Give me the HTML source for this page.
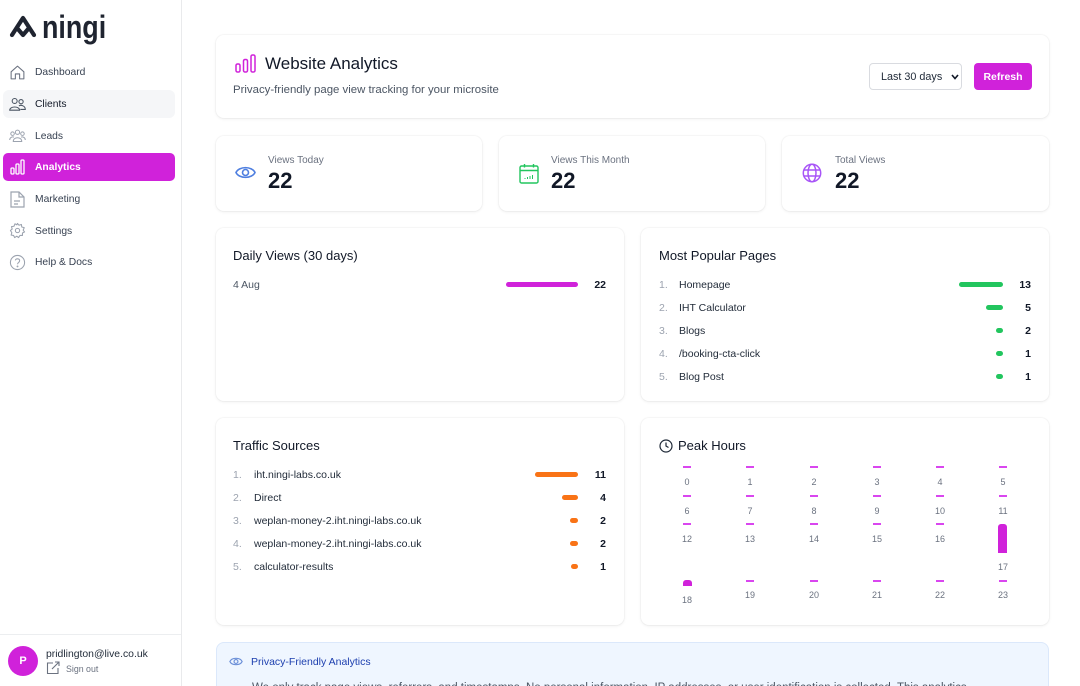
<!DOCTYPE html>
<html><head><meta charset="utf-8">
<style>
*{margin:0;padding:0;box-sizing:border-box}
html{width:1080px;height:686px;overflow:hidden}
body{position:relative;width:1080px;height:686px;overflow:hidden;background:#fff;font-family:"Liberation Sans",sans-serif;color:#111827}
.abs{position:absolute}
.t{position:absolute;white-space:nowrap;margin-top:1px}
.side{position:absolute;left:0;top:0;width:182px;height:686px;border-right:1px solid #e9eaec;background:#fff}
.nav{position:absolute;left:35px;font-size:10.3px;line-height:14px;color:#374151;margin-top:1px}
.card{position:absolute;background:#fff;border-radius:8px;box-shadow:0 1px 3px rgba(0,0,0,0.07),0 0 0 1px rgba(0,0,0,0.025)}
.h{font-size:13px;color:#111827;line-height:16px}
.idx{font-size:10.5px;color:#9ca3af;line-height:14px}
.lbl{font-size:10.5px;color:#1f2937;line-height:14px}
.num{font-size:10.5px;color:#111827;line-height:14px;font-weight:bold;text-align:right;width:30px}
.bar{position:absolute;height:5px;border-radius:3px}
.d{position:absolute;width:8px;height:2px;background:#d946ef}
.pl{position:absolute;width:30px;text-align:center;font-size:9px;line-height:12px;color:#6b7280;margin-top:1px}
</style></head><body>

<!-- Sidebar -->
<div class="side">
  <svg class="abs" style="left:8px;top:15px" width="31" height="24" viewBox="0 0 31 24">
    <path d="M15 3 L4 20 M15 3 L26 20 M9 13 L15 20 L21 13" stroke="#1f2430" stroke-width="4.2" fill="none" stroke-linecap="round" stroke-linejoin="round"/>
  </svg>
  <div class="abs" style="left:42px;top:10px;font-size:32px;font-weight:bold;color:#1f2430;line-height:34px;white-space:nowrap;transform:scaleX(0.84);transform-origin:0 0">ningi</div>

  <!-- Dashboard -->
  <svg class="abs" style="left:9px;top:64px" width="17" height="17" viewBox="0 0 24 24" fill="none" stroke="#6b7280" stroke-width="1.5"><path d="M3 11 L12 3 L21 11 V21 H15 V14 H9 V21 H3 Z" stroke-linejoin="round"/></svg>
  <div class="nav" style="top:65px">Dashboard</div>

  <div class="abs" style="left:3px;top:90px;width:172px;height:28px;background:#f5f6f8;border-radius:6px"></div>
  <svg class="abs" style="left:9px;top:96px" width="17" height="17" viewBox="0 0 24 24" fill="none" stroke="#4b5563" stroke-width="1.5"><circle cx="8" cy="7" r="3.5"/><circle cx="17" cy="8" r="3"/><path d="M1 20 C1 14 15 14 15 20 Z"/><path d="M14 14 C17 12 23 14 23 19 H16"/></svg>
  <div class="nav" style="top:97px;color:#111827">Clients</div>

  <svg class="abs" style="left:9px;top:128px" width="17" height="17" viewBox="0 0 24 24" fill="none" stroke="#9ca3af" stroke-width="1.4"><circle cx="12" cy="6" r="3"/><circle cx="5" cy="8" r="2.5"/><circle cx="19" cy="8" r="2.5"/><path d="M6 19 C6 12 18 12 18 19 Z"/><path d="M1 17 C1 13 5 12 7 13 M23 17 C23 13 19 12 17 13"/></svg>
  <div class="nav" style="top:129px">Leads</div>

  <div class="abs" style="left:3px;top:153px;width:172px;height:28px;background:#d022da;border-radius:5px"></div>
  <svg class="abs" style="left:10px;top:159px" width="15" height="16" viewBox="0 0 15 16" fill="none" stroke="#fff" stroke-width="1.3"><rect x="1" y="9" width="3" height="6" rx="1"/><rect x="6" y="5" width="3" height="10" rx="1"/><rect x="11" y="1" width="3" height="14" rx="1"/></svg>
  <div class="nav" style="top:160px;color:#fff;font-weight:bold">Analytics</div>

  <svg class="abs" style="left:10px;top:191px" width="15" height="17" viewBox="0 0 15 17" fill="none" stroke="#9ca3af" stroke-width="1.2"><path d="M1 1 H9 L14 6 V16 H1 Z"/><path d="M9 1 V6 H14 M4 10 H10 M4 13 H8"/></svg>
  <div class="nav" style="top:192px">Marketing</div>

  <svg class="abs" style="left:9px;top:222px" width="17" height="17" viewBox="0 0 24 24" fill="none" stroke="#9ca3af" stroke-width="1.5"><circle cx="12" cy="12" r="3"/><path d="M12 2 L14 4.5 L17.5 3.5 L18 7 L21.5 8 L20 11.5 L22 14 L19 15.5 L19 19 L15.5 19 L13.5 22 L11 20 L8 22 L6.5 19 L3 18.5 L4 15 L2 12 L4.5 10 L3.5 6.5 L7 6 L8.5 2.5 L11 4 Z" stroke-linejoin="round"/></svg>
  <div class="nav" style="top:224px">Settings</div>

  <svg class="abs" style="left:9px;top:254px" width="17" height="17" viewBox="0 0 24 24" fill="none" stroke="#9ca3af" stroke-width="1.5"><circle cx="12" cy="12" r="10"/><path d="M9 9 C9 6 15 6 15 9.5 C15 12 12 12 12 14.5"/><circle cx="12" cy="17.5" r="0.6" fill="#9ca3af"/></svg>
  <div class="nav" style="top:255px">Help &amp; Docs</div>

  <div class="abs" style="left:0;top:634px;width:181px;height:1px;background:#eceef0"></div>
  <div class="abs" style="left:8px;top:646px;width:30px;height:30px;border-radius:50%;background:#d022da;color:#fff;font-size:11px;font-weight:bold;text-align:center;line-height:30px">P</div>
  <div class="t" style="left:46px;top:647px;font-size:10.4px;color:#1f2937;line-height:14px">pridlington@live.co.uk</div>
  <svg class="abs" style="left:46px;top:661px" width="14" height="14" viewBox="0 0 14 14" fill="none" stroke="#6b7280" stroke-width="1.1"><path d="M7 2 H1.5 V12.5 H12 V7"/><path d="M6 8 L13 1 M9 1 H13 V5"/></svg>
  <div class="t" style="left:66px;top:662px;font-size:8.8px;color:#6b7280;line-height:12px">Sign out</div>
</div>

<!-- Header card -->
<div class="card" style="left:216px;top:35px;width:833px;height:83px"></div>
<svg class="abs" style="left:235px;top:54px" width="21" height="19" viewBox="0 0 21 19" fill="none" stroke="#d022da" stroke-width="1.5"><rect x="1" y="10" width="4" height="8" rx="1.5"/><rect x="8.5" y="5.5" width="4" height="12.5" rx="1.5"/><rect x="16" y="1" width="4" height="17" rx="1.5"/></svg>
<div class="t" style="left:265px;top:53px;font-size:17px;line-height:20px;color:#111827">Website Analytics</div>
<div class="t" style="left:233px;top:82px;font-size:11.4px;line-height:14px;color:#4b5563">Privacy-friendly page view tracking for your microsite</div>
<div class="abs" style="left:869px;top:63px;width:93px;height:27px;border:1px solid #d9dbe0;border-radius:4px;background:#fff"></div>
<div class="t" style="left:881px;top:70px;font-size:10.8px;line-height:13px;color:#1f2937">Last 30 days</div>
<svg class="abs" style="left:951px;top:74px" width="8" height="6" viewBox="0 0 8 6"><path d="M1 1 L4 4.5 L7 1" stroke="#111827" stroke-width="1.6" fill="none"/></svg>
<div class="abs" style="left:974px;top:63px;width:58px;height:27px;background:#d022da;border-radius:4px;color:#fff;font-size:10.5px;font-weight:bold;text-align:center;line-height:29px">Refresh</div>

<!-- Stat cards -->
<div class="card" style="left:216px;top:136px;width:266px;height:75px"></div>
<div class="card" style="left:499px;top:136px;width:266px;height:75px"></div>
<div class="card" style="left:782px;top:136px;width:267px;height:75px"></div>

<svg class="abs" style="left:235px;top:164px" width="21" height="17" viewBox="0 0 21 17" fill="none" stroke="#4f7fe0" stroke-width="1.6"><path d="M1 8.5 C4 2 17 2 20 8.5 C17 15 4 15 1 8.5 Z"/><circle cx="10.5" cy="8.5" r="3"/></svg>
<div class="t" style="left:268px;top:154px;font-size:10px;line-height:12px;color:#6b7280">Views Today</div>
<div class="t" style="left:268px;top:168px;font-size:22px;line-height:24px;font-weight:bold;color:#111827">22</div>

<svg class="abs" style="left:519px;top:163px" width="20" height="21" viewBox="0 0 20 21" fill="none" stroke="#22c55e" stroke-width="1.4"><rect x="1" y="3" width="18" height="17" rx="1.5"/><path d="M1 7.5 H19 M5.5 1 V4.5 M14.5 1 V4.5"/><path d="M6 16 V15 M8.5 16 V14 M11 16 V13 M13.5 16 V12" stroke-width="1"/></svg>
<div class="t" style="left:551px;top:154px;font-size:10px;line-height:12px;color:#6b7280">Views This Month</div>
<div class="t" style="left:551px;top:168px;font-size:22px;line-height:24px;font-weight:bold;color:#111827">22</div>

<svg class="abs" style="left:802px;top:163px" width="20" height="20" viewBox="0 0 20 20" fill="none" stroke="#a855f7" stroke-width="1.5"><circle cx="10" cy="10" r="8.7"/><ellipse cx="10" cy="10" rx="4" ry="8.7"/><path d="M1.5 7 H18.5 M1.5 13 H18.5"/></svg>
<div class="t" style="left:835px;top:154px;font-size:10px;line-height:12px;color:#6b7280">Total Views</div>
<div class="t" style="left:835px;top:168px;font-size:22px;line-height:24px;font-weight:bold;color:#111827">22</div>

<!-- Daily views -->
<div class="card" style="left:216px;top:228px;width:408px;height:173px"></div>
<div class="t h" style="left:233px;top:247px">Daily Views (30 days)</div>
<div class="t" style="left:233px;top:277px;font-size:10.5px;line-height:14px;color:#4b5563">4 Aug</div>
<div class="bar" style="left:506px;top:282px;width:72px;background:#d022da"></div>
<div class="t num" style="left:576px;top:277px">22</div>

<!-- Most popular pages -->
<div class="card" style="left:641px;top:228px;width:408px;height:173px"></div>
<div class="t h" style="left:659px;top:247px">Most Popular Pages</div>
<div class="t idx" style="left:659px;top:277px">1.</div><div class="t lbl" style="left:679px;top:277px">Homepage</div>
<div class="bar" style="left:959px;top:282px;width:44px;background:#22c55e"></div><div class="t num" style="left:1001px;top:277px">13</div>
<div class="t idx" style="left:659px;top:300px">2.</div><div class="t lbl" style="left:679px;top:300px">IHT Calculator</div>
<div class="bar" style="left:986px;top:305px;width:17px;background:#22c55e"></div><div class="t num" style="left:1001px;top:300px">5</div>
<div class="t idx" style="left:659px;top:323px">3.</div><div class="t lbl" style="left:679px;top:323px">Blogs</div>
<div class="bar" style="left:996px;top:328px;width:7px;background:#22c55e"></div><div class="t num" style="left:1001px;top:323px">2</div>
<div class="t idx" style="left:659px;top:346px">4.</div><div class="t lbl" style="left:679px;top:346px">/booking-cta-click</div>
<div class="bar" style="left:996px;top:351px;width:7px;background:#22c55e"></div><div class="t num" style="left:1001px;top:346px">1</div>
<div class="t idx" style="left:659px;top:369px">5.</div><div class="t lbl" style="left:679px;top:369px">Blog Post</div>
<div class="bar" style="left:996px;top:374px;width:7px;background:#22c55e"></div><div class="t num" style="left:1001px;top:369px">1</div>

<!-- Traffic sources -->
<div class="card" style="left:216px;top:418px;width:408px;height:207px"></div>
<div class="t h" style="left:233px;top:437px">Traffic Sources</div>
<div class="t idx" style="left:233px;top:467px">1.</div><div class="t lbl" style="left:254px;top:467px">iht.ningi-labs.co.uk</div>
<div class="bar" style="left:535px;top:472px;width:43px;background:#f97316"></div><div class="t num" style="left:576px;top:467px">11</div>
<div class="t idx" style="left:233px;top:490px">2.</div><div class="t lbl" style="left:254px;top:490px">Direct</div>
<div class="bar" style="left:562px;top:495px;width:16px;background:#f97316"></div><div class="t num" style="left:576px;top:490px">4</div>
<div class="t idx" style="left:233px;top:513px">3.</div><div class="t lbl" style="left:254px;top:513px">weplan-money-2.iht.ningi-labs.co.uk</div>
<div class="bar" style="left:570px;top:518px;width:8px;background:#f97316"></div><div class="t num" style="left:576px;top:513px">2</div>
<div class="t idx" style="left:233px;top:536px">4.</div><div class="t lbl" style="left:254px;top:536px">weplan-money-2.iht.ningi-labs.co.uk</div>
<div class="bar" style="left:570px;top:541px;width:8px;background:#f97316"></div><div class="t num" style="left:576px;top:536px">2</div>
<div class="t idx" style="left:233px;top:559px">5.</div><div class="t lbl" style="left:254px;top:559px">calculator-results</div>
<div class="bar" style="left:571px;top:564px;width:7px;background:#f97316"></div><div class="t num" style="left:576px;top:559px">1</div>

<!-- Peak hours -->
<div class="card" style="left:641px;top:418px;width:408px;height:207px"></div>
<svg class="abs" style="left:659px;top:439px" width="14" height="14" viewBox="0 0 14 14" fill="none" stroke="#1f2937" stroke-width="1.2"><circle cx="7" cy="7" r="6"/><path d="M7 3.5 V7 L9.5 8.5"/></svg>
<div class="t h" style="left:678px;top:437px">Peak Hours</div>

<!-- row1 -->
<div class="d" style="left:683px;top:466px"></div><div class="pl" style="left:672px;top:475px">0</div>
<div class="d" style="left:746px;top:466px"></div><div class="pl" style="left:735px;top:475px">1</div>
<div class="d" style="left:810px;top:466px"></div><div class="pl" style="left:799px;top:475px">2</div>
<div class="d" style="left:873px;top:466px"></div><div class="pl" style="left:862px;top:475px">3</div>
<div class="d" style="left:936px;top:466px"></div><div class="pl" style="left:925px;top:475px">4</div>
<div class="d" style="left:999px;top:466px"></div><div class="pl" style="left:988px;top:475px">5</div>
<!-- row2 -->
<div class="d" style="left:683px;top:495px"></div><div class="pl" style="left:672px;top:504px">6</div>
<div class="d" style="left:746px;top:495px"></div><div class="pl" style="left:735px;top:504px">7</div>
<div class="d" style="left:810px;top:495px"></div><div class="pl" style="left:799px;top:504px">8</div>
<div class="d" style="left:873px;top:495px"></div><div class="pl" style="left:862px;top:504px">9</div>
<div class="d" style="left:936px;top:495px"></div><div class="pl" style="left:925px;top:504px">10</div>
<div class="d" style="left:999px;top:495px"></div><div class="pl" style="left:988px;top:504px">11</div>
<!-- row3 -->
<div class="d" style="left:683px;top:523px"></div><div class="pl" style="left:672px;top:532px">12</div>
<div class="d" style="left:746px;top:523px"></div><div class="pl" style="left:735px;top:532px">13</div>
<div class="d" style="left:810px;top:523px"></div><div class="pl" style="left:799px;top:532px">14</div>
<div class="d" style="left:873px;top:523px"></div><div class="pl" style="left:862px;top:532px">15</div>
<div class="d" style="left:936px;top:523px"></div><div class="pl" style="left:925px;top:532px">16</div>
<div class="abs" style="left:998px;top:524px;width:9px;height:29px;background:#d022da;border-radius:3px 3px 0 0"></div><div class="pl" style="left:988px;top:560px">17</div>
<!-- row4 -->
<div class="abs" style="left:683px;top:580px;width:9px;height:6px;background:#d022da;border-radius:3px 3px 0 0"></div><div class="pl" style="left:672px;top:593px">18</div>
<div class="d" style="left:746px;top:580px"></div><div class="pl" style="left:735px;top:588px">19</div>
<div class="d" style="left:810px;top:580px"></div><div class="pl" style="left:799px;top:588px">20</div>
<div class="d" style="left:873px;top:580px"></div><div class="pl" style="left:862px;top:588px">21</div>
<div class="d" style="left:936px;top:580px"></div><div class="pl" style="left:925px;top:588px">22</div>
<div class="d" style="left:999px;top:580px"></div><div class="pl" style="left:988px;top:588px">23</div>

<!-- Privacy box -->
<div class="abs" style="left:216px;top:642px;width:833px;height:60px;background:#eff6ff;border:1px solid #dbe8fb;border-radius:8px"></div>
<svg class="abs" style="left:229px;top:656px" width="14" height="11" viewBox="0 0 21 17" fill="none" stroke="#6b8fd8" stroke-width="1.8"><path d="M1 8.5 C4 2 17 2 20 8.5 C17 15 4 15 1 8.5 Z"/><circle cx="10.5" cy="8.5" r="3"/></svg>
<div class="t" style="left:251px;top:654px;font-size:10.5px;line-height:14px;color:#1e40af">Privacy-Friendly Analytics</div>
<div class="t" style="left:252px;top:680px;font-size:11.5px;line-height:15px;color:#4b5563">We only track page views, referrers, and timestamps. No personal information, IP addresses, or user identification is collected. This analytics</div>

</body></html>
